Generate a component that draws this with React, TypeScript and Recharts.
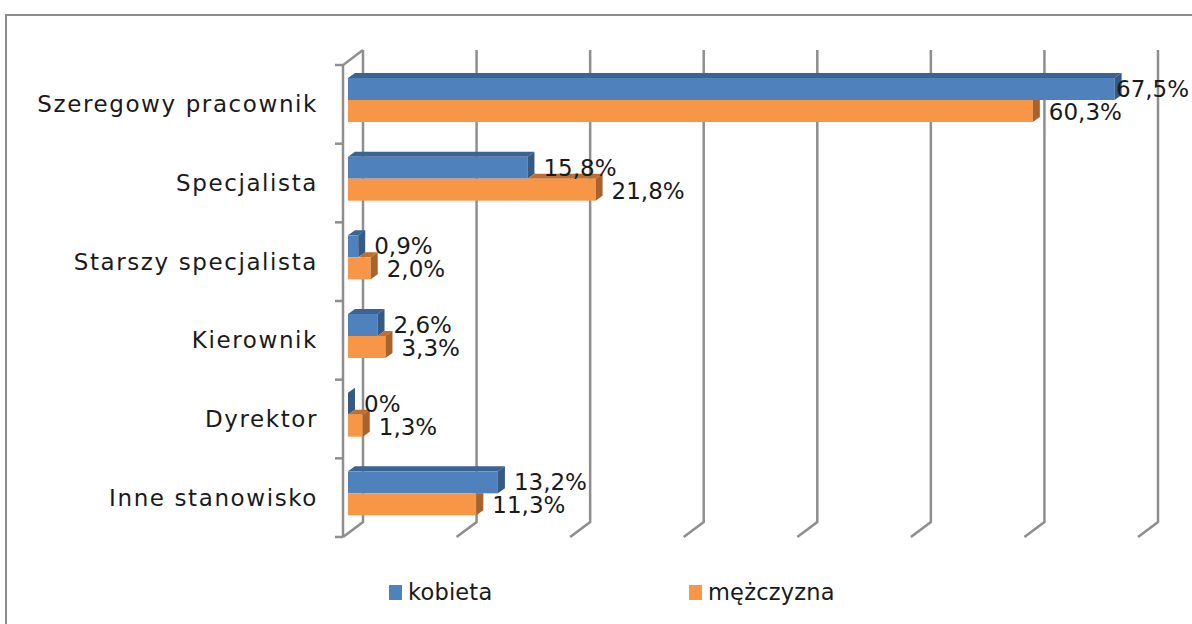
import React from 'react';
import { BarChart, Bar, XAxis, YAxis, CartesianGrid, Legend, LabelList } from 'recharts';

const categories = ['Szeregowy pracownik', 'Specjalista', 'Starszy specjalista', 'Kierownik', 'Dyrektor', 'Inne stanowisko'];
const kobieta = [67.5, 15.8, 0.9, 2.6, 0, 13.2];
const mezczyzna = [60.3, 21.8, 2.0, 3.3, 1.3, 11.3];
const kobietaLabels = ['67,5%', '15,8%', '0,9%', '2,6%', '0%', '13,2%'];
const mezczyznaLabels = ['60,3%', '21,8%', '2,0%', '3,3%', '1,3%', '11,3%'];
const seriesNames = ['kobieta', 'mężczyzna'];
const xTicks = [0, 10, 20, 30, 40, 50, 60, 70];

const data = categories.map((name, i) => ({
  name,
  kobieta: kobieta[i],
  mezczyzna: mezczyzna[i],
}));

const W = 1192;
const H = 624;
const FONT = '"DejaVu Sans", sans-serif';
const TEXT = '#1a1a1a';
const GRID = '#8e8e8e';
const BLUE = '#4f81bd';
const BLUE_TOP = '#3d6391';
const BLUE_SIDE = '#355a86';
const ORANGE = '#f79646';
const ORANGE_TOP = '#bc6e33';
const ORANGE_SIDE = '#a9622b';

// 3D offsets
const BACK_DX = 15, BACK_DY = -11;
const FRONT_DX = -5, FRONT_DY = 4;
const BD_X = 7, BD_Y = 5;

const BlueShape = (p: any) => {
  const { x, y, height } = p;
  const w = Math.max(p.width || 0, 0);
  return (
    <g>
      <polygon points={`${x},${y} ${x + BD_X},${y - BD_Y} ${x + w + BD_X},${y - BD_Y} ${x + w},${y}`} fill={BLUE_TOP} />
      <rect x={x} y={y} width={w} height={height} fill={BLUE} />
      <polygon points={`${x + w},${y} ${x + w + BD_X},${y - BD_Y} ${x + w + BD_X},${y + height - BD_Y} ${x + w},${y + height}`} fill={BLUE_SIDE} />
    </g>
  );
};

const OrangeShape = (p: any) => {
  const { x, y, height, payload } = p;
  const w = Math.max(p.width || 0, 0);
  const m = payload.mezczyzna;
  const bw = m > 0 ? (w * payload.kobieta) / m : 0;
  const bx = x + bw;
  const ox = x + w;
  return (
    <g>
      {ox > bx && (
        <polygon points={`${bx},${y} ${bx + BD_X},${y - BD_Y} ${ox + BD_X},${y - BD_Y} ${ox},${y}`} fill={ORANGE_TOP} />
      )}
      <rect x={x} y={y} width={w} height={height} fill={ORANGE} />
      {bx > ox ? (
        <polygon points={`${ox},${y} ${ox + BD_X},${y} ${ox + BD_X},${y + height - BD_Y} ${ox},${y + height}`} fill={ORANGE_SIDE} />
      ) : (
        <polygon points={`${ox},${y} ${ox + BD_X},${y - BD_Y} ${ox + BD_X},${y + height - BD_Y} ${ox},${y + height}`} fill={ORANGE_SIDE} />
      )}
    </g>
  );
};

const makeLabel = (labels: string[], dyShift: number) => (p: any) => {
  const { x, y, width, height, index } = p;
  const tx = Math.min(x + width + 16, W - 76);
  return (
    <text x={tx} y={y + height / 2 + dyShift} dominantBaseline="central" fontFamily={FONT} fontSize={23} fill={TEXT}>
      {labels[index]}
    </text>
  );
};

const gridLine = (p: any) => {
  const { x1, y1, y2, index } = p;
  const bx = x1 + BACK_DX;
  const fx = x1 + FRONT_DX;
  return (
    <g key={`g-${index}-${x1}`}>
      <path d={`M${bx},${y1 + BACK_DY} L${bx},${y2 + BACK_DY} L${fx},${y2 + FRONT_DY}`} stroke={GRID} strokeWidth={2.5} fill="none" />
      {index === 0 && (
        <path d={`M${bx},${y1 + BACK_DY} L${fx},${y1 + FRONT_DY} L${fx},${y2 + FRONT_DY}`} stroke={GRID} strokeWidth={2.5} fill="none" />
      )}
    </g>
  );
};

const CategoryTick = (p: any) => {
  const { x, y, payload, index } = p;
  const half = payload && payload.offset ? payload.offset : 39.3;
  const axisX = x + 8 + FRONT_DX;
  const top = y - half + FRONT_DY;
  const bottom = y + half + FRONT_DY;
  return (
    <g>
      <text x={318} y={y + 12} textAnchor="end" fontFamily={FONT} fontSize={23} letterSpacing={1.6} fill={TEXT}>
        {payload.value}
      </text>
      <line x1={axisX - 8} x2={axisX} y1={top} y2={top} stroke={GRID} strokeWidth={2.5} />
      {index === categories.length - 1 && (
        <line x1={axisX - 8} x2={axisX} y1={bottom} y2={bottom} stroke={GRID} strokeWidth={2.5} />
      )}
    </g>
  );
};

const LegendContent = (p: any) => {
  const items = p.payload || [];
  return (
    <div style={{ position: 'relative', height: 0 }}>
      {items.map((it: any, i: number) => (
        <div
          key={i}
          style={{
            position: 'absolute',
            left: 389 + i * 300,
            top: 578,
            display: 'flex',
            alignItems: 'center',
            fontFamily: FONT,
            fontSize: 22.5,
            letterSpacing: 0.2,
            color: TEXT,
            whiteSpace: 'nowrap',
            lineHeight: '28px',
          }}
        >
          <span style={{ display: 'inline-block', width: 13, height: 15, background: it.color, marginRight: 6 }} />
          <span>{it.value}</span>
        </div>
      ))}
    </div>
  );
};

export default function App() {
  return (
    <div style={{ position: 'absolute', left: 0, top: 0, width: W, height: H, overflow: 'hidden', background: '#fff' }}>
      <div style={{ position: 'absolute', left: 5, top: 14, width: W + 50, height: H + 50, border: '2.5px solid #8c8c8c', boxSizing: 'border-box' }} />
      <div style={{ position: 'absolute', left: 0, top: 0 }}>
        <BarChart
          width={W}
          height={H}
          data={data}
          layout="vertical"
          margin={{ top: 61, bottom: 91, left: 288, right: 49 }}
          barSize={22}
          barGap={0}
        >
          <CartesianGrid horizontal={false} vertical={gridLine} />
          <XAxis type="number" domain={[0, 70]} ticks={xTicks} hide />
          <YAxis type="category" dataKey="name" width={60} axisLine={false} tickLine={false} tick={CategoryTick} interval={0} />
          <Legend content={LegendContent} wrapperStyle={{ left: 0, top: 0, width: W, height: 0 }} />
          <Bar dataKey="kobieta" name={seriesNames[0]} fill={BLUE} shape={BlueShape} isAnimationActive={false}>
            <LabelList dataKey="kobieta" content={makeLabel(kobietaLabels, 0)} />
          </Bar>
          <Bar dataKey="mezczyzna" name={seriesNames[1]} fill={ORANGE} shape={OrangeShape} isAnimationActive={false}>
            <LabelList dataKey="mezczyzna" content={makeLabel(mezczyznaLabels, 1)} />
          </Bar>
        </BarChart>
      </div>
    </div>
  );
}
